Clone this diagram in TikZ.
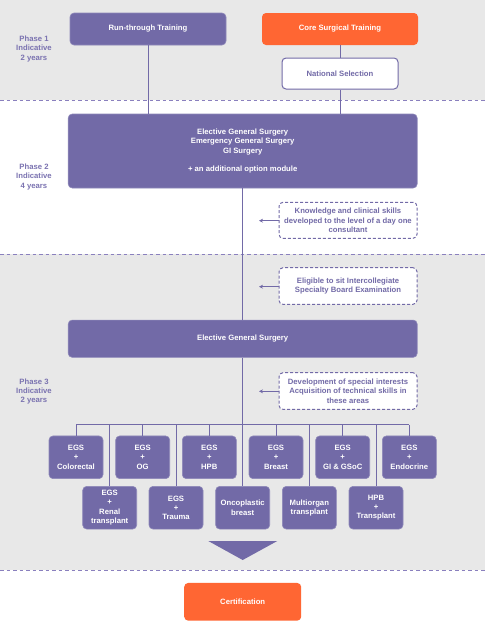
\documentclass[tikz,border=0pt]{standalone}
\usepackage{fontspec}
\setmainfont{Liberation Sans}
\usetikzlibrary{arrows.meta}
\definecolor{pfill}{HTML}{726AA7}
\definecolor{ptext}{HTML}{7A72B0}
\definecolor{pline}{HTML}{8A80BE}
\definecolor{bggray}{HTML}{E8E8E8}
\definecolor{orng}{HTML}{FF6633}
\tikzset{
  base/.style={rounded corners=4pt, inner sep=0pt, align=center, font=\fontsize{7.7}{9.3}\selectfont\bfseries},
  pbox/.style={base, fill=pfill, draw=pfill!80!white, line width=0.6pt, text=white},
  obox/.style={base, fill=orng, text=white},
  wbox/.style={base, fill=white, draw=pfill, line width=1pt, text=pfill},
  dbox/.style={base, fill=white, draw=pfill, line width=1pt, dashed, dash pattern=on 3pt off 2pt, text=pfill},
  phaselabel/.style={inner sep=0pt, align=center, text=ptext, font=\fontsize{7.7}{9.3}\selectfont\bfseries},
  conn/.style={draw=pfill, line width=1pt},
  note/.style={draw=pfill, line width=1pt, {Stealth[length=4pt,width=4pt]}-},
  sep/.style={draw=pline, line width=1pt, dash pattern=on 3.5pt off 3pt},
}
\begin{document}
\begin{tikzpicture}[x=1pt,y=-1pt]
\useasboundingbox (0,0) rectangle (487,635);
% backgrounds
\fill[bggray] (0,0) rectangle (485,100);
\fill[bggray] (0,254) rectangle (485,570);
\draw[sep] (0,100) -- (487,100);
\draw[sep] (0,254) -- (487,254);
\draw[sep] (0,570) -- (487,570);

% phase labels
\node[phaselabel] (ph1) at (34,49) {Phase 1\\Indicative\\2 years};
\node[phaselabel] (ph2) at (34,177) {Phase 2\\Indicative\\4 years};
\node[phaselabel] (ph3) at (34,391.5) {Phase 3\\Indicative\\2 years};

% phase 1
\node[pbox, minimum width=156pt, minimum height=32pt] (run) at (148,29) {Run-through Training};
\node[obox, minimum width=156pt, minimum height=32pt] (core) at (340,29) {Core Surgical Training};
\node[wbox, minimum width=116pt, minimum height=31pt] (nat) at (340,73.5) {National Selection};

% phase 2
\node[pbox, minimum width=349pt, minimum height=74pt] (p2) at (242.7,151) {};
\node[base, text=white] (p2t) at (242.7,142) {Elective General Surgery\\Emergency General Surgery\\GI Surgery};
\node[base, text=white] (p2o) at (242.7,170) {+ an additional option module};

\draw[conn] (run.south) -- (run.south |- p2.north);
\draw[conn] (core.south) -- (nat.north);
\draw[conn] (nat.south) -- (nat.south |- p2.north);

\node[dbox, minimum width=138pt, minimum height=36pt] (k) at (348,220.3) {Knowledge and clinical skills\\developed to the level of a day one\\consultant};
\coordinate (ka) at (259,220.7);
\draw[note] (ka) -- (ka -| k.west);

% phase 3
\node[dbox, minimum width=138pt, minimum height=36.6pt] (e) at (348,286) {Eligible to sit Intercollegiate\\Specialty Board Examination};
\coordinate (ea) at (259,286.7);
\draw[note] (ea) -- (ea -| e.west);

\node[pbox, minimum width=349pt, minimum height=37.3pt] (egs) at (242.7,338.7) {Elective General Surgery};
\draw[conn] (p2.south) -- (egs.north);

\node[dbox, minimum width=138pt, minimum height=36.6pt] (d) at (348,391) {Development of special interests\\Acquisition of technical skills in\\these areas};
\coordinate (da) at (259,391.3);
\draw[note] (da) -- (da -| d.west);

% bus
\coordinate (busL) at (76,424.7);
\coordinate (busR) at (409.3,424.7);
\draw[conn] (busL) -- (busR);

\tikzset{sbox/.style={pbox, minimum width=54pt, minimum height=42.7pt}}
\node[sbox] (t1) at (76,457.3) {EGS\\+\\Colorectal};
\node[sbox] (t2) at (142.7,457.3) {EGS\\+\\OG};
\node[sbox] (t3) at (209.3,457.3) {EGS\\+\\HPB};
\node[sbox] (t4) at (276,457.3) {EGS\\+\\Breast};
\node[sbox] (t5) at (342.7,457.3) {EGS\\+\\GI \& GSoC};
\node[sbox] (t6) at (409.3,457.3) {EGS\\+\\Endocrine};

\node[sbox] (b1) at (109.7,507.7) {EGS\\+\\Renal\\transplant};
\node[sbox] (b2) at (176,507.7) {EGS\\+\\Trauma};
\node[sbox] (b3) at (242.7,507.7) {Oncoplastic\\breast};
\node[sbox] (b4) at (309.3,507.7) {Multiorgan\\transplant};
\node[sbox] (b5) at (376,507.7) {HPB\\+\\Transplant};

\draw[conn] (egs.south) -- (b3.north);
\foreach \n in {t1,t2,t3,t4,t5,t6,b1,b2,b4,b5}{
  \draw[conn] (\n.north) -- (\n.north |- busL);
}

% big arrow
\fill[pfill] (208.3,541) -- (277.3,541) -- (242.7,560) -- cycle;

\node[obox, minimum width=117pt, minimum height=37.7pt] (cert) at (242.7,601.8) {Certification};
\end{tikzpicture}
\end{document}
